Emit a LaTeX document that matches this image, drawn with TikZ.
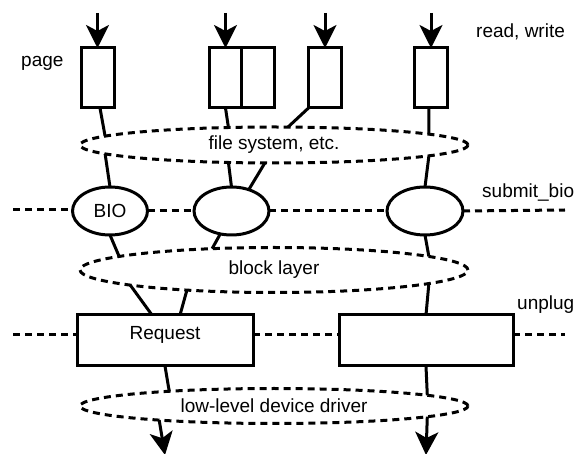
\documentclass[tikz,border=0pt]{standalone}
\usepackage{fontspec}
\setmainfont{Liberation Sans}
\usetikzlibrary{arrows.meta,shapes.geometric}
\begin{document}
\begin{tikzpicture}[x=1pt,y=-1pt,
  font=\fontsize{19}{22}\selectfont,
  lw/.style={line width=3pt},
  pagebox/.style={draw,lw,fill=white,minimum width=33pt,minimum height=60pt,inner sep=0pt,outer sep=0pt},
  bioell/.style={draw,lw,fill=white,ellipse,minimum width=75pt,minimum height=48pt,inner sep=0pt,outer sep=0pt},
  layer/.style={draw,lw,dash pattern=on 7pt off 5pt,ellipse,minimum width=388pt,inner sep=0pt,outer sep=0pt},
  reqbox/.style={draw,lw,fill=white,inner xsep=0pt,inner ysep=0pt,outer sep=0pt,text height=25pt,text depth=26pt},
  dline/.style={lw,dash pattern=on 7pt off 5pt},
  conn/.style={lw},
  arr/.style={lw,-{Stealth[length=23pt,width=23pt,inset=6pt]}},
  lbl/.style={anchor=base west,inner sep=0pt}
]
\useasboundingbox (0,0) rectangle (579,454);

% dashed layer ellipses
\node[layer,minimum height=36pt] (fs) at (274,145) {file system, etc.};
\node[layer,minimum height=45pt] (bl) at (274,270) {block layer};
\node[layer,minimum height=35pt] (ll) at (274,406) {low-level device driver};

% pages
\node[pagebox] (r1) at (97.5,78) {};
\node[pagebox] (r2) at (225.5,78) {};
\node[pagebox] (r3) at (258,78) {};
\node[pagebox] (r4) at (325,78) {};
\node[pagebox] (r5) at (431,78) {};

% top arrows
\coordinate (a1) at (97.5,13);
\coordinate (a2) at (225.5,13);
\coordinate (a3) at (325,13);
\coordinate (a4) at (431,13);
\draw[arr] (a1) -- (r1.north);
\draw[arr] (a2) -- (r2.north);
\draw[arr] (a3) -- (r4.north);
\draw[arr] (a4) -- (r5.north);

% submit_bio dashed line
\coordinate (sbl) at (13,210);
\coordinate (sbr) at (565,210);
\node[bioell] (bio) at (110,211) {BIO};
\node[bioell] (e2) at (231.5,211) {};
\node[bioell,minimum width=76pt] (e3) at (425,211) {};
\draw[dline] (sbl) -- (sbl -| bio.west);
\draw[dline] (bio.east) -- (e2.west);
\draw[dline] (e2.east) -- (e3.west);
\draw[dline] (e3.east) -- (sbr);

% request boxes
\node[reqbox,minimum width=176pt] (req) at (165,340.5) {Request};
\node[reqbox,minimum width=174pt] (rr) at (426,340.5) {};
\coordinate (upl) at (13,335);
\coordinate (upr) at (565,335);
\draw[dline] (upl) -- (upl -| req.west);
\draw[dline] (upl -| req.east) -- (upl -| rr.west);
\draw[dline] (upl -| rr.east) -- (upr);

% connectors pages -> file system
\draw[conn] ([xshift=2.5pt]r1.south) -- (fs.177);
\draw[conn] (r2.south) -- (fs.159);
\draw[conn] (r4.south west) -- (fs.52);
\draw[conn] ([xshift=-2pt]r5.south) -- (fs.4);

% file system -> bios
\draw[conn] (fs.183) -- (bio.north);
\draw[conn] (fs.201) -- (e2.north);
\draw[conn] (fs.243) -- (e2.51);
\draw[conn] (fs.356) -- (e3.north);

% bios -> block layer
\draw[conn] (bio.south) -- (bl.175);
\draw[conn] (e2.244) -- (bl.161);
\draw[conn] (e3.south) -- (bl.5);

% block layer -> requests
\draw[conn] (bl.186.5) -- ([xshift=-13pt]req.north);
\draw[conn] (bl.193) -- ([xshift=15pt]req.north);
\draw[conn] (bl.355) -- (rr.north);

% requests -> driver
\draw[conn] (req.south) -- (ll.172.6);
\draw[conn] (rr.south) -- (ll.4);
\coordinate (o1) at (165,455);
\coordinate (o2) at (426,455);
\draw[arr] (ll.187.4) -- (o1);
\draw[arr] (ll.356) -- (o2);

% labels
\node[lbl] (tpage) at (21,67) {page};
\node[lbl] (trw) at (476,38) {read, write};
\node[lbl] (tsb) at (482,198) {submit\_bio};
\node[lbl] (tup) at (517,310) {unplug};
\end{tikzpicture}
\end{document}
